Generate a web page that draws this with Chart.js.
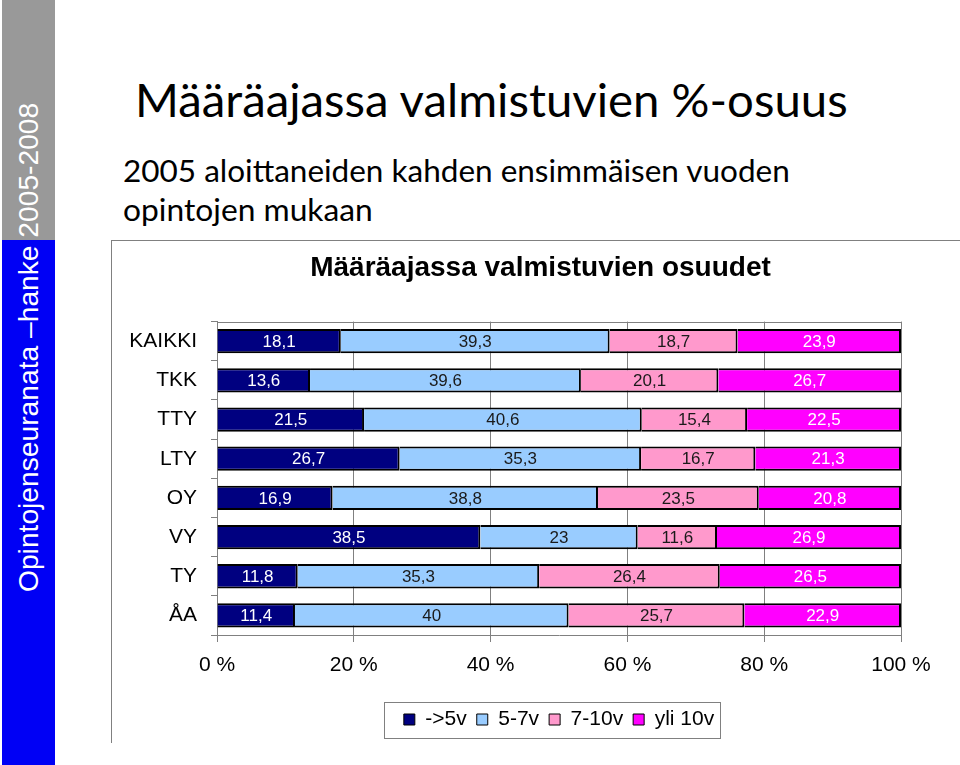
<!DOCTYPE html>
<html>
<head>
<meta charset="utf-8">
<script src="https://cdn.jsdelivr.net/npm/chart.js@4/dist/chart.umd.min.js"></script>
<style>
  html, body { margin: 0; padding: 0; background: #fff; width: 960px; height: 765px; overflow: hidden; }
  .side { position: absolute; left: 2px; top: 0; width: 53px; height: 765px;
          background: linear-gradient(to bottom, #999999 0, #999999 240px, #0000f5 240px, #0000f5 765px); }
  .sideText { position: absolute; left: 12px; top: 592px; transform-origin: 0 0; transform: rotate(-90deg);
              font-family: "Liberation Sans", Arial, sans-serif; font-size: 27px; line-height: 1; color: #fff; white-space: nowrap; }
  .head { position: absolute; font-family: Lato, "Open Sans", sans-serif; line-height: 1; color: #000; white-space: nowrap; }
  .box { position: absolute; left: 111px; top: 240px; width: 848px; height: 502px;
         border-top: 1px solid #808080; border-left: 1px solid #808080; }
  #chart { position: absolute; left: 111px; top: 240px; }
</style>
</head>
<body>
<div class="side"><span class="sideText" id="side">Opintojenseuranata –hanke 2005-2008</span></div>
<div class="head" id="h1" style="left:135px">Määräajassa valmistuvien %-osuus</div>
<div class="head" id="h2" style="left:123px">2005 aloittaneiden kahden ensimmäisen vuoden</div>
<div class="head" id="h3" style="left:123px">opintojen mukaan</div>
<div class="box"></div>
<canvas id="chart" width="849" height="505"></canvas>
<script>
// data
var universities = ["KAIKKI", "TKK", "TTY", "LTY", "OY", "VY", "TY", "ÅA"];
var under5 = [18.1, 13.6, 21.5, 26.7, 16.9, 38.5, 11.8, 11.4];
var from5to7 = [39.3, 39.6, 40.6, 35.3, 38.8, 23, 35.3, 40];
var from7to10 = [18.7, 20.1, 15.4, 16.7, 23.5, 11.6, 26.4, 25.7];
var over10 = [23.9, 26.7, 22.5, 21.3, 20.8, 26.9, 26.5, 22.9];
var seriesNames = ["->5v", "5-7v", "7-10v", "yli 10v"];
var xTicks = ["0 %", "20 %", "40 %", "60 %", "80 %", "100 %"];

var fillColors = ["#000080", "#99ccff", "#ff99cc", "#ff00ff"];
var textColors = ["#ffffff", "#1a1a1a", "#1a1a1a", "#ffffff"];
var arial = '"Liberation Sans", Arial, sans-serif';

// headings: fit text to the widths seen in the picture
function fit(id, width, baseline, ratio) {
	var el = document.getElementById(id);
	var size = parseFloat(getComputedStyle(el).fontSize);
	size = size * width / el.offsetWidth;
	el.style.fontSize = size + "px";
	if (baseline != null) el.style.top = (baseline - ratio * size) + "px";
}
document.getElementById("h1").style.fontSize = "50px";
document.getElementById("h2").style.fontSize = "30px";
document.getElementById("h3").style.fontSize = "30px";
fit("h1", 713, 117, 0.887);
fit("h2", 667, 183, 0.887);
fit("h3", 250, 222, 0.887);
fit("side", 489);

// value labels in the middle of each segment
var valueLabels = {
	id: "valueLabels",
	afterDatasetsDraw: function (chart) {
		var ctx = chart.ctx;
		ctx.save();
		ctx.font = "17px " + arial;
		ctx.textAlign = "center";
		ctx.textBaseline = "middle";
		chart.data.datasets.forEach(function (ds, i) {
			chart.getDatasetMeta(i).data.forEach(function (bar, j) {
				var p = bar.getCenterPoint();
				ctx.fillStyle = textColors[i];
				ctx.fillText(String(ds.data[j]).replace(".", ","), p.x, p.y + 1);
			});
		});
		ctx.restore();
	}
};

// top edge of the plot area and the frame round the legend
var frames = {
	id: "frames",
	beforeDatasetsDraw: function (chart) {
		var a = chart.chartArea, ctx = chart.ctx;
		ctx.save();
		ctx.strokeStyle = "#808080";
		ctx.lineWidth = 1;
		ctx.beginPath();
		ctx.moveTo(a.left, Math.round(a.top) + 0.5);
		ctx.lineTo(a.right, Math.round(a.top) + 0.5);
		ctx.stroke();
		ctx.restore();
	},
	afterDraw: function (chart) {
		var boxes = chart.legend.legendHitBoxes;
		if (!boxes || !boxes.length) return;
		var first = boxes[0], last = boxes[boxes.length - 1];
		var cy = first.top + first.height / 2;
		var ctx = chart.ctx;
		ctx.save();
		ctx.strokeStyle = "#808080";
		ctx.lineWidth = 1;
		ctx.strokeRect(Math.round(first.left - 20) + 0.5, Math.round(cy - 18) + 0.5,
			Math.round(last.left + last.width - first.left + 26), 36);
		ctx.restore();
	}
};

function makeSet(i, values) {
	return {
		label: seriesNames[i],
		data: values,
		backgroundColor: fillColors[i],
		borderColor: "#000",
		borderWidth: 2,
		barPercentage: 0.62,
		categoryPercentage: 1
	};
}

var chart = new Chart(document.getElementById("chart"), {
	type: "bar",
	data: {
		labels: universities,
		datasets: [makeSet(0, under5), makeSet(1, from5to7), makeSet(2, from7to10), makeSet(3, over10)]
	},
	options: {
		responsive: false,
		animation: false,
		indexAxis: "y",
		layout: { padding: { left: 10, right: 0, top: 0, bottom: 5 } },
		scales: {
			x: {
				stacked: true,
				min: 0,
				max: 100,
				ticks: {
					stepSize: 20,
					padding: 11,
					color: "#000",
					font: { family: arial, size: 21 },
					callback: function (v, i) { return xTicks[i]; }
				},
				grid: { color: "#808080", tickLength: 7 },
				border: { color: "#808080" },
				afterFit: function (s) { s.height = 64; }
			},
			y: {
				stacked: true,
				ticks: { padding: 14, color: "#000", font: { family: arial, size: 21 } },
				grid: { drawOnChartArea: false, color: "#808080", tickLength: 6 },
				border: { color: "#808080" },
				afterFit: function (s) { s.width = 96; }
			},
			y2: {
				type: "linear",
				position: "right",
				ticks: { display: false },
				grid: { display: false },
				border: { display: false },
				afterFit: function (s) { s.width = 59; }
			}
		},
		plugins: {
			title: {
				display: true,
				text: "Määräajassa valmistuvien osuudet",
				color: "#000",
				font: { family: arial, size: 28, weight: "bold" },
				padding: { top: 11, bottom: 37 }
			},
			legend: {
				position: "bottom",
				fullSize: false,
				labels: {
					boxWidth: 11,
					boxHeight: 11,
					padding: 10,
					color: "#000",
					font: { family: arial, size: 21 },
					generateLabels: function (c) {
						return Chart.defaults.plugins.legend.labels.generateLabels(c).map(function (l) {
							l.lineWidth = 1;
							return l;
						});
					}
				}
			},
			tooltip: { enabled: false }
		}
	},
	plugins: [valueLabels, frames]
});
</script>
</body>
</html>
